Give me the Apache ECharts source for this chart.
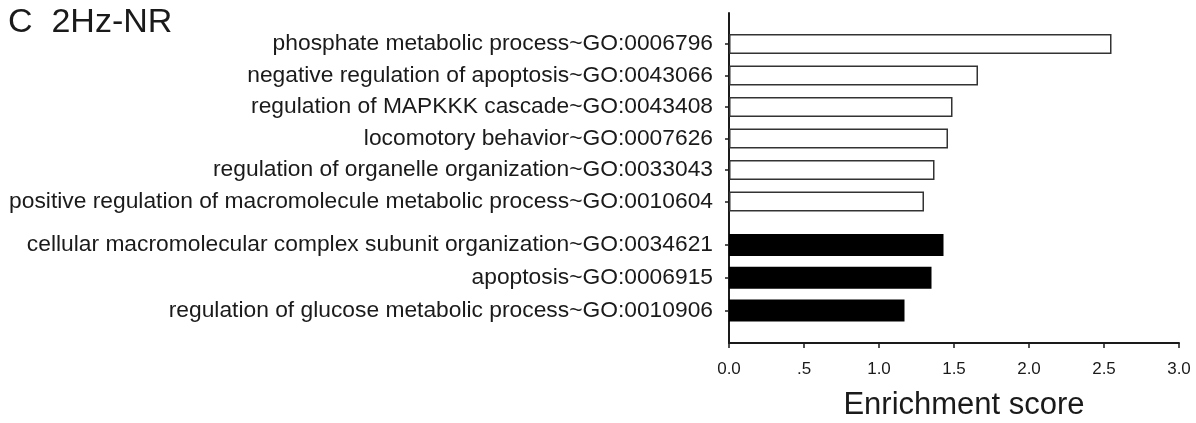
<!DOCTYPE html>
<html>
<head>
<meta charset="utf-8">
<script src="https://cdn.jsdelivr.net/npm/echarts@6/dist/echarts.min.js"></script>
<style>
html,body{margin:0;padding:0;background:#fff;}
#chart{width:1196px;height:423px;}
</style>
</head>
<body>
<div id="chart"></div>
<script>
// ---- data ----
const whiteCategories = [
  'phosphate metabolic process~GO:0006796',
  'negative regulation of apoptosis~GO:0043066',
  'regulation of MAPKKK cascade~GO:0043408',
  'locomotory behavior~GO:0007626',
  'regulation of organelle organization~GO:0033043',
  'positive regulation of macromolecule metabolic process~GO:0010604'
];
const whiteValues = [2.55, 1.66, 1.49, 1.46, 1.37, 1.30];
const blackCategories = [
  'cellular macromolecular complex subunit organization~GO:0034621',
  'apoptosis~GO:0006915',
  'regulation of glucose metabolic process~GO:0010906'
];
const blackValues = [1.43, 1.35, 1.17];
const xTickLabels = ['0.0', '.5', '1.0', '1.5', '2.0', '2.5', '3.0'];
const titleText = 'C  2Hz-NR';
const xAxisName = 'Enrichment score';

// ---- chart ----
const FONT = 'Liberation Sans, Arial, sans-serif';
const INK = '#1a1a1a';
const chart = echarts.init(document.getElementById('chart'));
const hiddenX = (gi) => ({
  type: 'value', gridIndex: gi, min: 0, max: 3, interval: 0.5, show: false
});
const catY = (gi, data) => ({
  type: 'category', gridIndex: gi, inverse: true, data: data,
  axisLine: { show: false },
  axisTick: { show: true, alignWithLabel: true, length: 4, lineStyle: { color: INK, width: 1.5 } },
  axisLabel: { margin: 16, fontFamily: FONT, fontSize: 22.8, color: INK },
  splitLine: { show: false }
});
chart.setOption({
  animation: false,
  backgroundColor: '#fff',
  title: {
    text: titleText, left: 3, top: 1,
    textStyle: { fontFamily: FONT, fontSize: 34, fontWeight: 'normal', color: INK }
  },
  grid: [
    { left: 729, top: 13, width: 450, height: 330, outerBoundsMode: 'none', containLabel: false },
    { left: 729, top: 28.25, width: 450, height: 189, outerBoundsMode: 'none', containLabel: false },
    { left: 729, top: 228.6, width: 450, height: 98.3, outerBoundsMode: 'none', containLabel: false }
  ],
  xAxis: [
    {
      type: 'value', gridIndex: 0, min: 0, max: 3, interval: 0.5,
      axisLine: { show: true, lineStyle: { color: INK, width: 2 } },
      axisTick: { show: true, inside: false, length: 5, lineStyle: { color: INK, width: 1.5 } },
      splitLine: { show: false },
      axisLabel: {
        margin: 18, fontFamily: FONT, fontSize: 17, color: INK,
        formatter: (v, i) => xTickLabels[Math.round(v / 0.5)]
      },
      name: xAxisName, nameLocation: 'middle', nameGap: 47,
      nameTextStyle: { fontFamily: FONT, fontSize: 31, color: INK, padding: [0, 0, 0, 20] }
    },
    hiddenX(1),
    hiddenX(2)
  ],
  yAxis: [
    {
      type: 'value', gridIndex: 0, min: 0, max: 1,
      axisLine: { show: true, lineStyle: { color: INK, width: 2 } },
      axisTick: { show: false }, axisLabel: { show: false }, splitLine: { show: false }
    },
    catY(1, whiteCategories),
    catY(2, blackCategories)
  ],
  series: [
    {
      type: 'bar', xAxisIndex: 1, yAxisIndex: 1, data: whiteValues,
      barWidth: 20,
      itemStyle: { color: '#fff', borderColor: '#333', borderWidth: 1.5 }
    },
    {
      type: 'bar', xAxisIndex: 2, yAxisIndex: 2, data: blackValues,
      barWidth: 22,
      itemStyle: { color: '#000' }
    }
  ]
});
</script>
</body>
</html>
